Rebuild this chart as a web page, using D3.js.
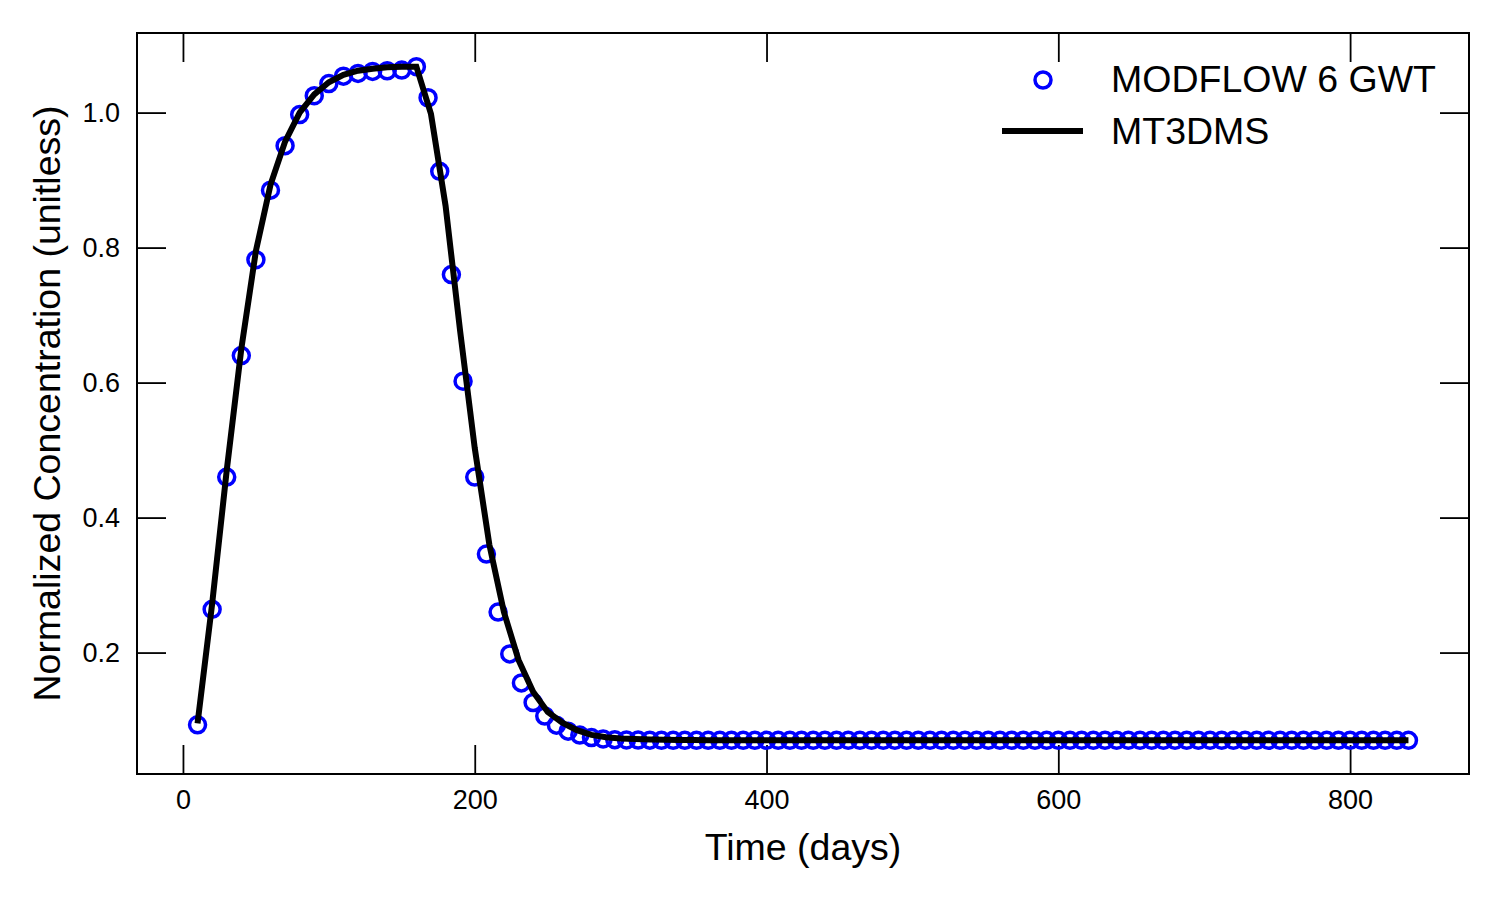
<!DOCTYPE html>
<html>
<head>
<meta charset="utf-8">
<script src="https://d3js.org/d3.v7.min.js"></script>
<style>
  body { margin: 0; background: #fff; }
  text { font-family: "Liberation Sans", Arial, sans-serif; fill: #000; }
</style>
</head>
<body>
<svg id="vis"></svg>
<script>
// MODFLOW 6 GWT results (circles)
var mf6Time = [10, 20, 30, 40, 50, 60, 70, 80, 90, 100, 110, 120, 130, 140, 150, 160,
  168, 176, 184, 192, 200, 208, 216, 224, 232, 240, 248, 256, 264, 272, 280, 288, 296,
  304, 312, 320, 328, 336, 344, 352, 360, 368, 376, 384, 392, 400, 408, 416, 424, 432,
  440, 448, 456, 464, 472, 480, 488, 496, 504, 512, 520, 528, 536, 544, 552, 560, 568,
  576, 584, 592, 600, 608, 616, 624, 632, 640, 648, 656, 664, 672, 680, 688, 696, 704,
  712, 720, 728, 736, 744, 752, 760, 768, 776, 784, 792, 800, 808, 816, 824, 832, 840];
var mf6Conc = [0.093, 0.264, 0.460, 0.640, 0.782, 0.885, 0.951, 0.997, 1.025, 1.043,
  1.054, 1.058, 1.061, 1.062, 1.063, 1.068,
  1.022, 0.913, 0.760, 0.602, 0.460, 0.346, 0.260, 0.198, 0.155, 0.126, 0.106, 0.0925,
  0.0836, 0.0778, 0.0740, 0.0720, 0.0710, 0.0705, 0.0703, 0.0702, 0.0700, 0.0700, 0.0700,
  0.0700, 0.0700, 0.0700, 0.0700, 0.0700, 0.0700, 0.0700, 0.0700, 0.0700, 0.0700, 0.0700,
  0.0700, 0.0700, 0.0700, 0.0700, 0.0700, 0.0700, 0.0700, 0.0700, 0.0700, 0.0700, 0.0700,
  0.0700, 0.0700, 0.0700, 0.0700, 0.0700, 0.0700, 0.0700, 0.0700, 0.0700, 0.0700, 0.0700,
  0.0700, 0.0700, 0.0700, 0.0700, 0.0700, 0.0700, 0.0700, 0.0700, 0.0700, 0.0700, 0.0700,
  0.0700, 0.0700, 0.0700, 0.0700, 0.0700, 0.0700, 0.0700, 0.0700, 0.0700, 0.0700, 0.0700,
  0.0700, 0.0700, 0.0700, 0.0700, 0.0700, 0.0700, 0.0700];

// MT3DMS results (line)
var mt3dTime = [10, 20, 30, 40, 50, 60, 70, 80, 90, 100, 110, 120, 130, 140, 150, 160,
  170, 180, 190, 200, 210, 220, 230, 240, 250, 260, 270, 280, 290, 300, 310, 320, 330,
  340, 350, 360, 370, 380, 390, 400, 410, 420, 430, 440, 450, 460, 470, 480, 490, 500,
  510, 520, 530, 540, 550, 560, 570, 580, 590, 600, 610, 620, 630, 640, 650, 660, 670,
  680, 690, 700, 710, 720, 730, 740, 750, 760, 770, 780, 790, 800, 810, 820, 830, 840];
var mt3dConc = [0.095, 0.272, 0.470, 0.650, 0.795, 0.893, 0.957, 1.000, 1.027, 1.045,
  1.056, 1.062, 1.065, 1.067, 1.068, 1.068,
  0.998, 0.862, 0.676, 0.503, 0.360, 0.260, 0.189, 0.142, 0.112, 0.096, 0.085, 0.078,
  0.0745, 0.0728, 0.0718, 0.0712, 0.0708, 0.0705, 0.0703, 0.0702, 0.0701, 0.0700, 0.0700,
  0.0700, 0.0700, 0.0700, 0.0700, 0.0700, 0.0700, 0.0700, 0.0700, 0.0700, 0.0700, 0.0700,
  0.0700, 0.0700, 0.0700, 0.0700, 0.0700, 0.0700, 0.0700, 0.0700, 0.0700, 0.0700, 0.0700,
  0.0700, 0.0700, 0.0700, 0.0700, 0.0700, 0.0700, 0.0700, 0.0700, 0.0700, 0.0700, 0.0700,
  0.0700, 0.0700, 0.0700, 0.0700, 0.0700, 0.0700, 0.0700, 0.0700, 0.0700, 0.0700, 0.0700,
  0.0700];

var xTicks = [0, 200, 400, 600, 800];
var yTicks = [0.2, 0.4, 0.6, 0.8, 1.0];
var seriesNames = ["MODFLOW 6 GWT", "MT3DMS"];

// figure + axes box
var W = 1500, H = 900;
var margin = {top: 33, right: 31, bottom: 126, left: 137};
var width = W - margin.left - margin.right,
    height = H - margin.top - margin.bottom;

var svg = d3.select("#vis")
    .attr("width", W)
    .attr("height", H);
svg.append("rect").attr("width", W).attr("height", H).attr("fill", "#fff");

var g = svg.append("g")
    .attr("transform", "translate(" + margin.left + "," + margin.top + ")");

// matplotlib style 5% padding around the data
function padded(arrs) {
  var lo = d3.min(arrs, function(a) { return d3.min(a); }),
      hi = d3.max(arrs, function(a) { return d3.max(a); }),
      p = (hi - lo) * 0.05;
  return [lo - p, hi + p];
}

var x = d3.scaleLinear().domain(padded([mf6Time, mt3dTime])).range([0, width]);
var y = d3.scaleLinear().domain(padded([mf6Conc, mt3dConc])).range([height, 0]);

var tickLen = 29;

// ticks pointing inward on all four sides
var xAxis = g.append("g")
    .attr("transform", "translate(0," + height + ")")
    .call(d3.axisBottom(x).tickValues(xTicks).tickSizeInner(-tickLen).tickSizeOuter(0).tickPadding(16));
var xTop = g.append("g")
    .call(d3.axisTop(x).tickValues(xTicks).tickSizeInner(-tickLen).tickSizeOuter(0).tickFormat(""));
var yAxis = g.append("g")
    .call(d3.axisLeft(y).tickValues(yTicks).tickSizeInner(-tickLen).tickSizeOuter(0).tickPadding(17).tickFormat(d3.format(".1f")));
var yRight = g.append("g")
    .attr("transform", "translate(" + width + ",0)")
    .call(d3.axisRight(y).tickValues(yTicks).tickSizeInner(-tickLen).tickSizeOuter(0).tickFormat(""));

[xAxis, xTop, yAxis, yRight].forEach(function(a) {
  a.select(".domain").remove();
  a.selectAll(".tick line").attr("stroke", "#000").attr("stroke-width", 1.8);
  a.selectAll(".tick text").style("font-size", "27px").attr("font-family", null);
});

// data: circles first, line on top
var pts = mf6Time.map(function(t, i) { return {t: t, c: mf6Conc[i]}; });
var linePts = mt3dTime.map(function(t, i) { return {t: t, c: mt3dConc[i]}; });

g.append("g")
  .selectAll("circle")
  .data(pts)
  .enter()
  .append("circle")
    .attr("cx", function(d) { return x(d.t); })
    .attr("cy", function(d) { return y(d.c); })
    .attr("r", 8)
    .attr("fill", "none")
    .attr("stroke", "#0000ff")
    .attr("stroke-width", 3.5);

var line = d3.line()
    .x(function(d) { return x(d.t); })
    .y(function(d) { return y(d.c); });

g.append("path")
    .datum(linePts)
    .attr("d", line)
    .attr("fill", "none")
    .attr("stroke", "#000")
    .attr("stroke-width", 6)
    .attr("stroke-linejoin", "miter");

// frame
g.append("rect")
    .attr("width", width)
    .attr("height", height)
    .attr("fill", "none")
    .attr("stroke", "#000")
    .attr("stroke-width", 2);

// axis labels
svg.append("text")
    .attr("x", margin.left + width / 2)
    .attr("y", 860)
    .attr("text-anchor", "middle")
    .style("font-size", "37.5px")
    .text("Time (days)");

svg.append("text")
    .attr("transform", "translate(60," + (margin.top + height / 2) + ") rotate(-90)")
    .attr("text-anchor", "middle")
    .style("font-size", "37.5px")
    .text("Normalized Concentration (unitless)");

// legend
var legend = svg.append("g");
legend.append("circle")
    .attr("cx", 1043).attr("cy", 80).attr("r", 8)
    .attr("fill", "none").attr("stroke", "#0000ff").attr("stroke-width", 3.5);
legend.append("line")
    .attr("x1", 1002).attr("x2", 1083).attr("y1", 131).attr("y2", 131)
    .attr("stroke", "#000").attr("stroke-width", 6);
legend.selectAll("text.lab")
  .data(seriesNames)
  .enter()
  .append("text")
    .attr("class", "lab")
    .attr("x", 1111)
    .attr("y", function(d, i) { return 92 + i * 51.5; })
    .style("font-size", "37.5px")
    .text(function(d) { return d; });
</script>
</body>
</html>
